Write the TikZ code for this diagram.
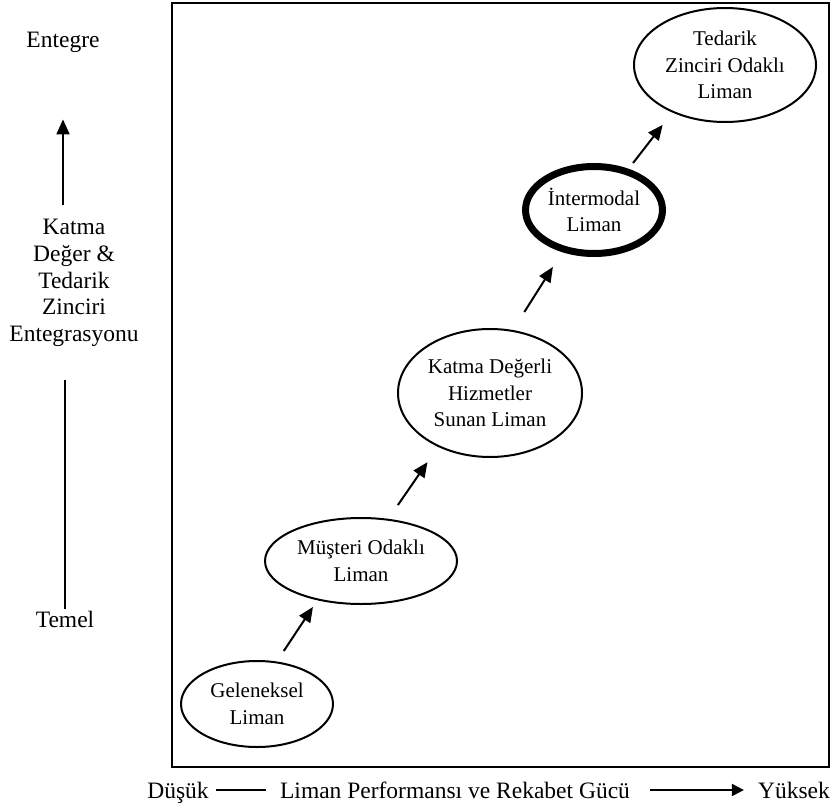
\documentclass[tikz,border=0pt]{standalone}
\usepackage{fontspec}
\setmainfont{Liberation Serif}
\usetikzlibrary{shapes.geometric,arrows.meta,calc}
\begin{document}
\begin{tikzpicture}[x=1pt,y=1pt,yscale=-1,xscale=1,
  liman/.style={draw,ellipse,line width=2pt,inner sep=0pt,align=center,font=\fontsize{21}{26.7}\selectfont},
  eksen/.style={inner sep=0pt,align=center,font=\fontsize{23.5}{26.7}\selectfont},
  ok/.style={line width=2pt,-{Triangle[length=15pt,width=13pt]}},
  kucukok/.style={line width=2pt,-{Triangle[length=12pt,width=12pt]}}]
\useasboundingbox (0,0) rectangle (834,805);

%Shape: Rectangle
\draw [line width=2pt] (172,3) rectangle (829,767);

%Shape: Ellipse
\node [liman, minimum width=152, minimum height=86] (geleneksel) at (257,704) {Geleneksel\\Liman};
%Shape: Ellipse
\node [liman, minimum width=192, minimum height=86] (musteri) at (361,561) {Müşteri Odaklı\\Liman};
%Shape: Ellipse
\node [liman, minimum width=184, minimum height=128] (katmadeger) at (490,393) {Katma Değerli\\Hizmetler\\Sunan Liman};
%Shape: Ellipse
\node [liman, line width=7pt, minimum width=137, minimum height=87] (intermodal) at (594,210) {İntermodal\\Liman};
%Shape: Ellipse
\node [liman, minimum width=182, minimum height=114] (tedarik) at (725,65) {Tedarik\\Zinciri Odaklı\\Liman};

%Straight Lines
\draw [ok, shorten <=12.6pt, shorten >=8pt] (geleneksel.65) -- (musteri.222);
%Straight Lines
\draw [ok, shorten <=16.7pt, shorten >=18.5pt] (musteri.57) -- (katmadeger.226);
%Straight Lines
\draw [ok, shorten <=21.3pt, shorten >=17.5pt] (katmadeger.70) -- (intermodal.233);
%Straight Lines
\draw [ok, shorten <=7.3pt, shorten >=15.6pt] (intermodal.50) -- (tedarik.222);

% Text Node
\node [eksen] (entegre) at (63,42) {Entegre};
% Text Node
\node [eksen] (katma) at (74,283) {Katma\\Değer \&\\Tedarik\\Zinciri\\Entegrasyonu};
% Text Node
\node [eksen] (temel) at (65,619) {Temel};
%Straight Lines
\draw [ok, shorten <=14pt, shorten >=67pt] (katma.north -| entegre.south) -- (entegre.south);
%Straight Lines
\draw [line width=2pt, shorten <=33pt, shorten >=2pt] (katma.south -| temel.north) -- (temel.north);

% Text Node
\node [eksen, anchor=base] (dusuk) at (178,798) {Düşük};
% Text Node
\node [eksen, anchor=base] (performans) at (455,798) {Liman Performansı ve Rekabet Gücü};
% Text Node
\node [eksen, anchor=base] (yuksek) at (794,798) {Yüksek};
%Straight Lines
\draw [line width=2pt, shorten <=7pt, shorten >=14pt] ($(dusuk.base east)+(0,-8)$) -- ($(performans.base west)+(0,-8)$);
%Straight Lines
\draw [kucukok, shorten <=20pt, shorten >=14pt] ($(performans.base east)+(0,-8)$) -- ($(yuksek.base west)+(0,-8)$);

\end{tikzpicture}
\end{document}
